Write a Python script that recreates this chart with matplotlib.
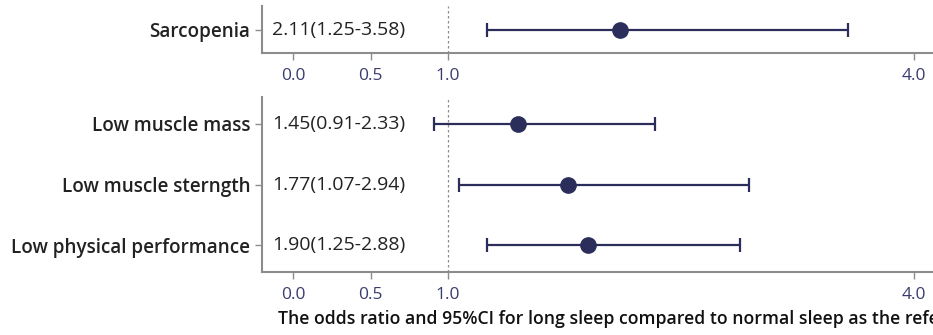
import matplotlib
matplotlib.use("Agg")
import matplotlib.pyplot as plt

# data
top_labels = ["Sarcopenia"]
top_or = [2.11]
top_lo = [1.25]
top_hi = [3.58]

bot_labels = ["Low muscle mass", "Low muscle sterngth", "Low physical performance"]
bot_or = [1.45, 1.77, 1.90]
bot_lo = [0.91, 1.07, 1.25]
bot_hi = [2.33, 2.94, 2.88]

xticks = [0.0, 0.5, 1.0, 4.0]
xlabel = "The odds ratio and 95%CI for long sleep compared to normal sleep as the reference"

plt.rcParams['font.family'] = ['Open Sans', 'DejaVu Sans']

navy = "#2b2d5a"
grey = "#8c8c8c"
tick_col = "#3b3d6e"

fig = plt.figure(figsize=(9.33, 3.35), dpi=100)
ax1 = fig.add_axes([0.2808, 0.8418, 0.7932, 0.1402])
ax2 = fig.add_axes([0.2808, 0.188, 0.7932, 0.5224])


def forest(ax, labels, ors, los, his, pad):
    ys = list(range(len(labels)))
    xerr = [[o - l for o, l in zip(ors, los)], [h - o for o, h in zip(ors, his)]]
    ax.axvline(1.0, color=grey, linestyle=(0, (2, 2)), linewidth=0.9, zorder=1)
    ax.errorbar(ors, ys, xerr=xerr, fmt='o', color=navy, ecolor=navy,
                markersize=11, elinewidth=1.6, capsize=5, capthick=1.6, zorder=3)
    for y, o, l, h in zip(ys, ors, los, his):
        ax.text(-0.135, y, "%.2f(%.2f-%.2f)" % (o, l, h), ha='left', va='center',
                fontsize=14, color="#222222")
    ax.set_yticks(ys)
    ax.set_yticklabels(labels, fontsize=13.6, fontweight='semibold', color="#222222")
    ax.set_ylim(len(labels) - 1 + pad, -pad)
    ax.set_xlim(-0.2, 4.57)
    ax.set_xticks(xticks)
    ax.set_xticklabels(["%.1f" % t for t in xticks], fontsize=12.5, color=tick_col)
    for s in ['top', 'right']:
        ax.spines[s].set_visible(False)
    for s in ['left', 'bottom']:
        ax.spines[s].set_color(grey)
        ax.spines[s].set_linewidth(1.5)
    ax.tick_params(axis='both', color=grey, length=5, width=1)
    ax.tick_params(axis='x', pad=6)


forest(ax1, top_labels, top_or, top_lo, top_hi, 0.38)
forest(ax2, bot_labels, bot_or, bot_lo, bot_hi, 0.44)
ax2.set_xlabel(xlabel, fontsize=12.7, fontweight='semibold', color="#111111", labelpad=5)

fig.savefig("out.png", dpi=100)
